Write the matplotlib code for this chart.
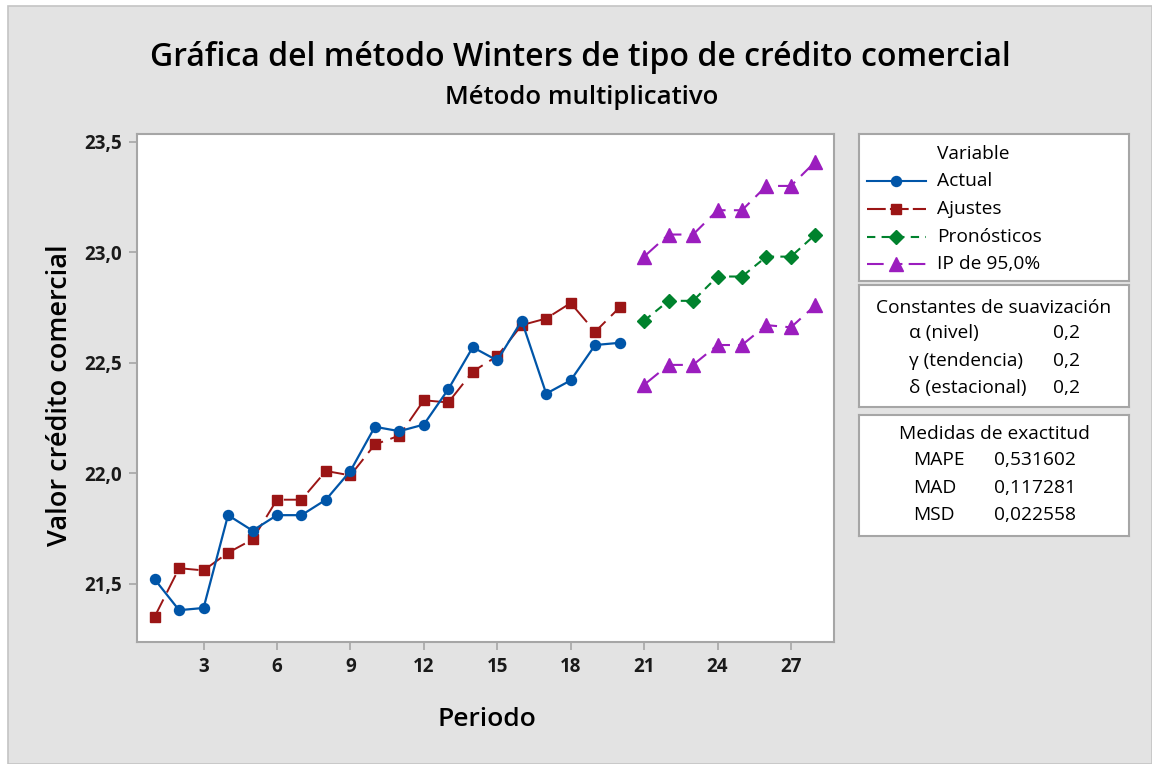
import matplotlib.pyplot as plt
from matplotlib.patches import Rectangle
from matplotlib.lines import Line2D
import numpy as np

# data
periodo = np.arange(1, 21)
actual = [21.52, 21.38, 21.39, 21.81, 21.74, 21.81, 21.81, 21.88, 22.01, 22.21,
          22.19, 22.22, 22.38, 22.57, 22.51, 22.69, 22.36, 22.42, 22.58, 22.59]
ajustes = [21.35, 21.57, 21.56, 21.64, 21.70, 21.88, 21.88, 22.01, 21.99, 22.13,
           22.17, 22.33, 22.32, 22.46, 22.53, 22.67, 22.70, 22.77, 22.64, 22.75]
periodo_f = np.arange(21, 29)
pronosticos = [22.69, 22.78, 22.78, 22.89, 22.89, 22.98, 22.98, 23.08]
ip_sup = [22.98, 23.08, 23.08, 23.19, 23.19, 23.30, 23.30, 23.41]
ip_inf = [22.40, 22.49, 22.49, 22.58, 22.58, 22.67, 22.66, 22.76]

x_ticks = [3, 6, 9, 12, 15, 18, 21, 24, 27]
y_ticks = [21.5, 22.0, 22.5, 23.0, 23.5]

c_blue = '#0055A8'
c_red = '#9B1515'
c_green = '#00822D'
c_purple = '#9B1DBE'
bg = '#E3E3E3'
edge = '#A6A6A6'

plt.rcParams['font.family'] = ['Open Sans', 'DejaVu Sans']

W, H = 1152, 764
fig = plt.figure(figsize=(W / 100, H / 100), dpi=100, facecolor='white')

# grey background panel with thin border (white margin at top/left)
fig.patches.append(Rectangle((8 / W, 0), 1 - 8 / W, 1 - 6 / H, transform=fig.transFigure,
                             facecolor=bg, edgecolor='#C4C4C4', lw=1.2, zorder=-10))


def fx(px):
    return px / W


def fy(py):
    return 1 - py / H


ax = fig.add_axes([fx(137), fy(642), fx(834) - fx(137), fy(134) - fy(642)])
ax.set_facecolor('white')

ax.plot(periodo, actual, color=c_blue, lw=1.6, marker='o', ms=7.2, zorder=4)
ax.plot(periodo, ajustes, color=c_red, lw=1.4, marker='s', ms=7.5,
        dashes=(10, 4), zorder=3)
ax.plot(periodo_f, pronosticos, color=c_green, lw=1.5, marker='D', ms=7,
        dashes=(4, 3), zorder=3)
ax.plot(periodo_f, ip_sup, color=c_purple, lw=1.5, marker='^', ms=9.5,
        dashes=(9, 4), zorder=3)
ax.plot(periodo_f, ip_inf, color=c_purple, lw=1.5, marker='^', ms=9.5,
        dashes=(9, 4), zorder=3)

ax.set_xlim(0.28, 28.76)
ax.set_ylim(21.236, 23.535)
ax.set_xticks(x_ticks)
ax.set_xticklabels([str(v) for v in x_ticks], fontweight='bold')
ax.set_yticks(y_ticks)
ax.set_yticklabels([f'{v:.1f}'.replace('.', ',') for v in y_ticks],
                   fontweight='bold')
for s in ax.spines.values():
    s.set_color(edge)
    s.set_linewidth(1.5)
ax.tick_params(direction='out', length=6, width=1.2, color=edge,
               labelsize=13.5, labelcolor='#1A1A1A', pad=5)

fig.text(fx(580), fy(57), 'Gráfica del método Winters de tipo de crédito comercial',
         ha='center', va='center', fontsize=23, fontweight='semibold')
fig.text(fx(582), fy(97), 'Método multiplicativo', ha='center', va='center',
         fontsize=18.5, fontweight='semibold')
fig.text(fx(60), fy(395), 'Valor crédito comercial', ha='center', va='center',
         rotation=90, fontsize=19.5, fontweight='semibold')
fig.text(fx(487), fy(720), 'Periodo', ha='center', va='center',
         fontsize=19, fontweight='semibold')


def box(y0, y1):
    bax = fig.add_axes([fx(859), fy(y1), fx(1129) - fx(859), fy(y0) - fy(y1)])
    bax.set_xlim(859, 1129)
    bax.set_ylim(y1, y0)
    bax.set_xticks([])
    bax.set_yticks([])
    bax.set_facecolor('white')
    for s in bax.spines.values():
        s.set_color(edge)
        s.set_linewidth(1.5)
    return bax


fs = 13.8

# legend box
b1 = box(134, 281)
b1.text(973, 154, 'Variable', ha='center', va='center', fontsize=fs)
leg = [('Actual', c_blue, 'o', 7.2, None),
       ('Ajustes', c_red, 's', 7.5, (9, 2)),
       ('Pronósticos', c_green, 'D', 7, (4, 3)),
       ('IP de 95,0%', c_purple, '^', 9.5, (8, 6, 3, 3))]
rows = [181, 209, 237, 264]
for (name, col, mk, ms, dsh), yy in zip(leg, rows):
    ln = Line2D([867, 926], [yy, yy], color=col, lw=1.5)
    if dsh is not None:
        ln.set_dashes(dsh)
    b1.add_line(ln)
    b1.plot([896], [yy], marker=mk, color=col, ms=ms)
    b1.text(937, yy, name, ha='left', va='center', fontsize=fs)

# smoothing constants box
b2 = box(285, 407)
b2.text(994, 308, 'Constantes de suavización', ha='center', va='center', fontsize=fs)
const_lab = ['α (nivel)', 'γ (tendencia)', 'δ (estacional)']
const_val = ['0,2', '0,2', '0,2']
for lab, val, yy in zip(const_lab, const_val, [333, 361, 388]):
    b2.text(909, yy, lab, ha='left', va='center', fontsize=fs)
    b2.text(1053, yy, val, ha='left', va='center', fontsize=fs)

# accuracy box
b3 = box(415, 536)
b3.text(994, 434, 'Medidas de exactitud', ha='center', va='center', fontsize=fs)
med_lab = ['MAPE', 'MAD', 'MSD']
med_val = ['0,531602', '0,117281', '0,022558']
for lab, val, yy in zip(med_lab, med_val, [460, 488, 515]):
    b3.text(913, yy, lab, ha='left', va='center', fontsize=fs)
    b3.text(1076, yy, val, ha='right', va='center', fontsize=fs)

fig.savefig('out.png', dpi=100, facecolor=fig.get_facecolor())
